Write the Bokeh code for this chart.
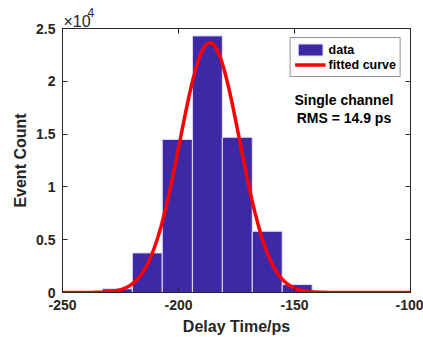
import numpy as np
from bokeh.plotting import figure
from bokeh.models import Range1d, LinearAxis, FixedTicker, Label, Legend, LegendItem, Title
from bokeh.embed import file_html
from bokeh.resources import INLINE

# ---- data ----
bin_edges = [-232.8, -219.9, -207.0, -194.0, -181.1, -168.2, -155.3, -142.4]
bin_counts = [350, 3750, 14500, 24300, 14700, 5800, 750]

# fitted Gaussian parameters
fit_amplitude = 23650
fit_mean = -186.5
fit_sigma = 12.9

x_ticks = [-250, -200, -150, -100]
x_tick_labels = ["-250", "-200", "-150", "-100"]
y_ticks = [0, 5000, 10000, 15000, 20000, 25000]
y_tick_labels = ["0", "0.5", "1", "1.5", "2", "2.5"]

annotation_lines = ["Single channel", "RMS = 14.9 ps"]

FONT = "Liberation Sans"
TXT = "#262626"
BAR = "#3D28A6"

p = figure(width=423, height=337, output_backend="svg", toolbar_location=None,
           x_range=Range1d(-250, -100), y_range=Range1d(0, 25000),
           min_border_left=62, min_border_right=13, min_border_top=28, min_border_bottom=44)
p.background_fill_color = "white"
p.border_fill_color = "white"
p.outline_line_color = TXT
p.grid.visible = False

left_edges = bin_edges[:-1]
right_edges = bin_edges[1:]
bars = p.quad(left=left_edges, right=right_edges, bottom=0, top=bin_counts,
              fill_color=BAR, line_color="#E4DEFA", line_width=1)

xs = np.linspace(-250, -100, 600)
ys = fit_amplitude * np.exp(-(xs - fit_mean) ** 2 / (2 * fit_sigma ** 2))
curve = p.line(xs, ys, line_color="#FF0000", line_width=3.5)

def style_axis(ax, labels=True):
    ax.axis_line_color = TXT
    ax.major_tick_line_color = TXT
    ax.major_tick_in = 5
    ax.major_tick_out = 0
    ax.minor_tick_line_color = None
    ax.major_label_text_font = FONT
    ax.major_label_text_font_style = "bold"
    ax.major_label_text_color = TXT
    ax.major_label_text_font_size = "14px" if labels else "0px"
    ax.axis_label_text_font = FONT
    ax.axis_label_text_font_style = "bold"
    ax.axis_label_text_color = TXT
    ax.axis_label_text_font_size = "16px"

xa = p.xaxis[0]
ya = p.yaxis[0]
xa.ticker = FixedTicker(ticks=x_ticks)
ya.ticker = FixedTicker(ticks=y_ticks)
xa.major_label_overrides = {t: l for t, l in zip(x_ticks, x_tick_labels)}
ya.major_label_overrides = {t: l for t, l in zip(y_ticks, y_tick_labels)}
style_axis(xa)
style_axis(ya)
xa.axis_label = "Delay Time/ps"
ya.axis_label = "Event Count"
xa.major_label_standoff = 7
ya.major_label_standoff = 7
xa.axis_label_standoff = 5
ya.axis_label_standoff = 4

top_ax = LinearAxis(ticker=FixedTicker(ticks=x_ticks), major_label_overrides={t: "" for t in x_ticks})
right_ax = LinearAxis(ticker=FixedTicker(ticks=y_ticks), major_label_overrides={t: "" for t in y_ticks})
style_axis(top_ax, labels=False)
style_axis(right_ax, labels=False)
p.add_layout(top_ax, "above")
p.add_layout(right_ax, "right")

# exponent label (as titles in the top panel)
p.add_layout(Title(text="\u00d710", align="left", offset=1, standoff=-2,
                   text_font=FONT, text_font_style="normal", text_font_size="16px",
                   text_color=TXT), "above")
p.add_layout(Title(text="4", align="left", offset=25, standoff=-10,
                   text_font=FONT, text_font_style="normal", text_font_size="12px",
                   text_color=TXT), "above")

# annotation
for txt, yv in zip(annotation_lines, [18200, 16500]):
    p.add_layout(Label(x=-128.7, y=yv, text=txt, text_align="center", text_baseline="middle",
                       text_font=FONT, text_font_style="bold", text_font_size="14px",
                       text_color="#000000"))

legend = Legend(items=[LegendItem(label="data", renderers=[bars]),
                       LegendItem(label="fitted curve", renderers=[curve])],
                location="top_right")
legend.margin = 9
legend.padding = 4
legend.spacing = 0
legend.glyph_width = 31
legend.glyph_height = 15
legend.label_height = 15
legend.label_standoff = 3
legend.label_text_font = FONT
legend.label_text_font_style = "bold"
legend.label_text_font_size = "12.5px"
legend.label_text_color = "#000000"
legend.border_line_color = TXT
legend.border_line_width = 1
legend.background_fill_alpha = 1
p.add_layout(legend, "center")

open("out.html", "w").write(file_html(p, INLINE))
